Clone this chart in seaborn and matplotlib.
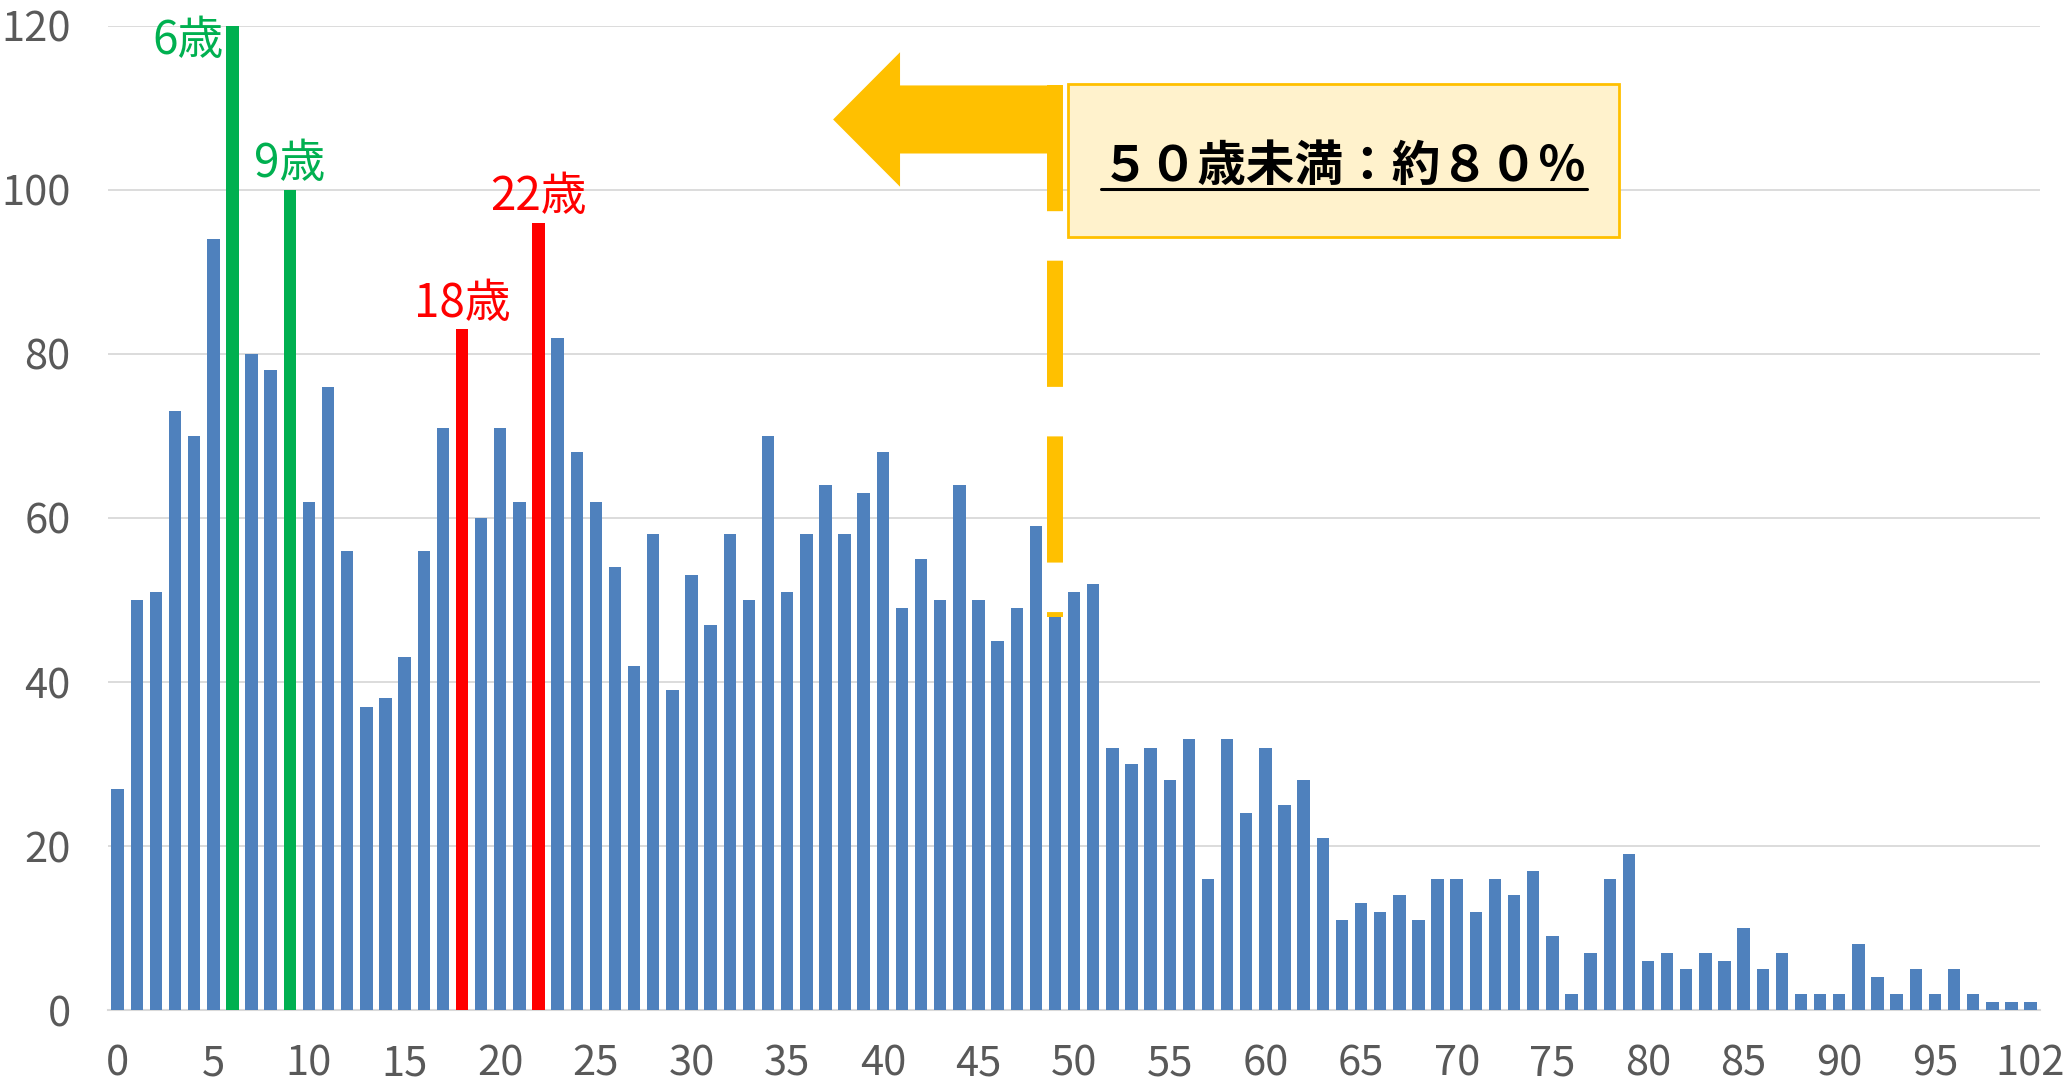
import matplotlib
matplotlib.use('Agg')
import matplotlib.pyplot as plt
from matplotlib.patches import FancyArrow, Rectangle
import seaborn as sns
import pandas as pd

# ages 0-99 plus 102 (100 and 101 have no cases)
ages = list(range(0, 100)) + [102]
counts = [27, 50, 51, 73, 70, 94, 120, 80, 78, 100,
          62, 76, 56, 37, 38, 43, 56, 71, 83, 60,
          71, 62, 96, 82, 68, 62, 54, 42, 58, 39,
          53, 47, 58, 50, 70, 51, 58, 64, 58, 63,
          68, 49, 55, 50, 64, 50, 45, 49, 59, 48,
          51, 52, 32, 30, 32, 28, 33, 16, 33, 24,
          32, 25, 28, 21, 11, 13, 12, 14, 11, 16,
          16, 12, 16, 14, 17, 9, 2, 7, 16, 19,
          6, 7, 5, 7, 6, 10, 5, 7, 2, 2,
          2, 8, 4, 2, 5, 2, 5, 2, 1, 1,
          1]
green_ages = [6, 9]
red_ages = [18, 22]
y_ticks = [0, 20, 40, 60, 80, 100, 120]
note_text = '５０歳未満：約８０％'
cutoff_age = 49

BLUE, GREEN, RED = '#4F81BD', '#00B050', '#FF0000'
ORANGE, CREAM = '#FFC000', '#FFF2CC'

sns.set_theme(style='white')
plt.rcParams['font.family'] = ['Noto Sans CJK JP', 'DejaVu Sans']

df = pd.DataFrame({'age': [str(a) for a in ages], 'count': counts})
df['group'] = ['green' if a in green_ages else 'red' if a in red_ages else 'blue' for a in ages]

fig, ax = plt.subplots(figsize=(20.67, 10.83), dpi=100)
fig.subplots_adjust(left=0.0523, right=0.987, bottom=0.0674, top=0.976)

sns.barplot(data=df, x='age', y='count', hue='group', order=df['age'],
            palette={'blue': BLUE, 'green': GREEN, 'red': RED}, saturation=1,
            dodge=False, width=0.65, linewidth=0, legend=False, ax=ax, zorder=3)

ax.set_xlim(-0.5, len(ages) - 0.5)
ax.set_ylim(0, 120)
ax.set_yticks(y_ticks)
ax.set_xticks(range(0, len(ages), 5))
ax.set_xticklabels([str(ages[i]) for i in range(0, len(ages), 5)])
ax.set_xlabel('')
ax.set_ylabel('')
ax.tick_params(axis='both', length=0, labelsize=30, colors='#595959')
ax.tick_params(axis='y', pad=27)
ax.tick_params(axis='x', pad=24)
ax.grid(axis='y', color='#D9D9D9', linewidth=1.3, zorder=0)
ax.grid(axis='x', visible=False)
for s in ['top', 'right', 'left']:
    ax.spines[s].set_visible(False)
ax.spines['bottom'].set_color('#D9D9D9')
ax.spines['bottom'].set_linewidth(1.5)

pos = {a: i for i, a in enumerate(ages)}
ax.text(pos[6] - 0.45, 121.2, '6歳', color=GREEN, fontsize=33, ha='right', va='top')
for a, c in [(9, GREEN), (18, RED), (22, RED)]:
    ax.text(pos[a], counts[pos[a]] + 0.2, f'{a}歳', color=c, fontsize=33,
            ha='center', va='bottom')

# left arrow + dashed cutoff line
x_cut = pos[cutoff_age]
ax.add_patch(FancyArrow(x_cut, 108.6, -(x_cut - 37.4), 0, width=8.3, head_width=16.4,
                        head_length=3.5, length_includes_head=True,
                        color=ORANGE, linewidth=0, zorder=5))
ax.plot([x_cut, x_cut], [112.8, 47.9], color=ORANGE, linewidth=11.5,
        dashes=(7.9, 3.1), solid_capstyle='butt', dash_capstyle='butt', zorder=5)

# note box
ax.add_patch(Rectangle((49.7, 94.3), 28.8, 18.6, facecolor=CREAM, edgecolor=ORANGE,
                       linewidth=2, zorder=6))
txt = ax.text(64.1, 102.9, note_text, fontsize=35, fontweight='bold', color='black',
              ha='center', va='center', zorder=7)
fig.canvas.draw()
bb = txt.get_window_extent().transformed(ax.transData.inverted())
ax.plot([bb.x0, bb.x1], [100.1, 100.1], color='black', linewidth=2.2, zorder=7)

fig.savefig('out.png', dpi=100)
